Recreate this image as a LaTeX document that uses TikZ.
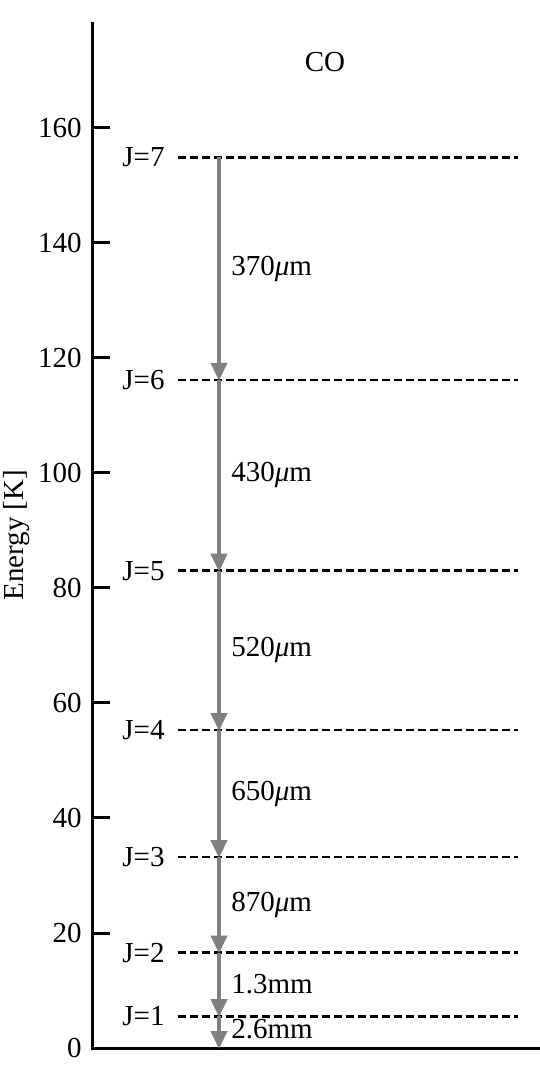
\documentclass[tikz,border=0pt]{standalone}
\usepackage{fontspec}
\setmainfont{Liberation Serif}
\usepackage{xcolor}
\definecolor{transgray}{HTML}{808080}
\usetikzlibrary{arrows.meta}

\begin{document}
\begin{tikzpicture}[
  x=0.5pt, y=2.875pt,
  font=\fontsize{14.5}{17}\selectfont,
  axis/.style={line width=1.5pt,black},
  level/.style={line width=1.3pt,dash pattern=on 4pt off 2pt},
  jlabel/.style={anchor=east,inner sep=0pt},
  wave/.style={anchor=west,inner sep=0pt},
  trans/.style={-{Triangle[length=9pt,width=8pt]},line width=2pt,draw=transgray,shorten >=-0.5pt}
]
\useasboundingbox (-92,-5.565) rectangle (448,182.26);
% axes
\coordinate (orig) at (0,0);
\coordinate (ytop) at (0,178.4);
\coordinate (xend) at (448,0);
\draw[axis] (ytop) -- (orig) -- (xend);
\foreach \e in {0,20,...,160}{
  \draw[axis] (0,\e) -- (18,\e);
  \node[anchor=east,inner sep=0pt] (tick\e) at (-10,\e) {\e};
}
\node[rotate=90] (ylab) at (-75,89.2) {Energy [K]};
\node (molname) at (233,171.5) {CO};
% levels
\coordinate (lv0) at (127,0);
\foreach \j/\e in {1/5.53,2/16.6,3/33.2,4/55.3,5/83.0,6/116.2,7/154.9}{
  \coordinate (dl\j) at (86,\e);
  \coordinate (dr\j) at (426,\e);
  \coordinate (lv\j) at (127,\e);
  \draw[level] (dl\j) -- (dr\j);
  \node[jlabel] (jl\j) at (73,\e) {J=\j};
}
% transitions
\draw[trans] (lv7) -- (lv6);
\draw[trans] (lv6) -- (lv5);
\draw[trans] (lv5) -- (lv4);
\draw[trans] (lv4) -- (lv3);
\draw[trans] (lv3) -- (lv2);
\draw[trans] (lv2) -- (lv1);
\draw[trans] (lv1) -- (lv0);
\node[wave] (w76) at (139,135.55) {370\textit{μ}m};
\node[wave] (w65) at (139,99.6) {430\textit{μ}m};
\node[wave] (w54) at (139,69.15) {520\textit{μ}m};
\node[wave] (w43) at (139,44.25) {650\textit{μ}m};
\node[wave] (w32) at (139,24.9) {870\textit{μ}m};
\node[wave] (w21) at (139,11.07) {1.3mm};
\node[wave] (w10) at (139,3.2) {2.6mm};
\end{tikzpicture}
\end{document}
